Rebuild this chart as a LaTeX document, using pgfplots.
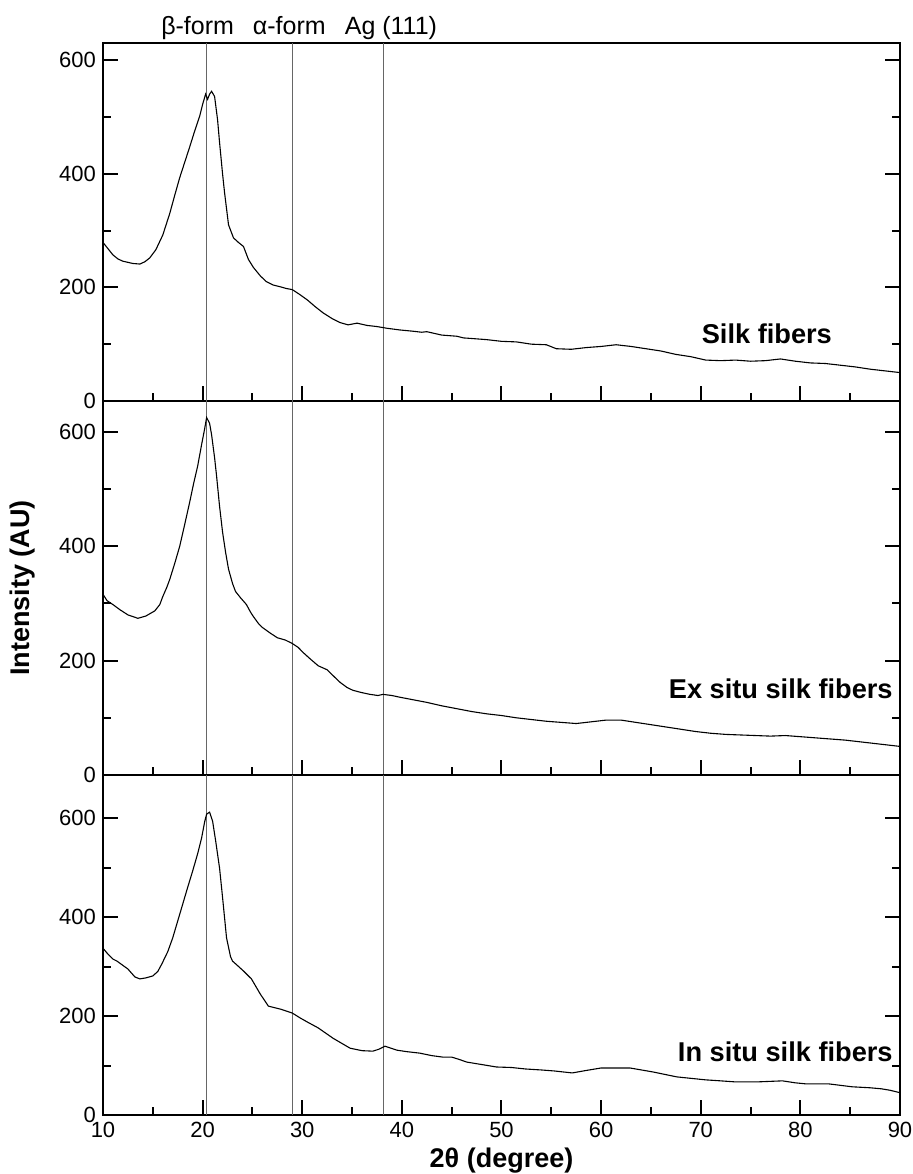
\documentclass[border=0pt]{standalone}
\usepackage{pgfplots}
\pgfplotsset{compat=1.18}
\usepackage{fontspec}
\setmainfont{Liberation Sans}

\pgfplotstableread{
x y
10 279
10.5 268
11 257
11.5 250
12 246
12.5 244
13 242
13.7 241
14.2 245
14.7 252
15.3 266
16.0 292
16.7 330
17.2 362
17.7 393
18.2 420
18.7 447
19.2 475
19.7 501
20.0 522
20.3 540
20.5 531
20.7 540
20.9 545
21.2 536
21.5 495
21.7 455
22.0 400
22.2 367
22.6 310
23.1 287
23.6 279
24.1 272
24.6 249
25.1 235
25.8 220
26.4 210
27.1 204
27.8 201
28.4 198
29.0 196
29.7 188
30.5 178
31.3 166
32.1 155
33.0 145
33.8 138
34.6 134
35.5 137
36.5 133
37.5 131
38.5 128
39.8 125
41 123
42 121
42.5 122
44 116
45.5 114
46.2 111
47 110
48.5 108
50 105
51.5 104
53 100
54.5 99
55.5 92
57 91
58.5 94
60 96
61.5 99
63 96
64.5 92
66 88
67.5 82
69 78
70.5 72
72 71
73.5 72
75 70
76.5 71
78 74
79.5 70
81 67
82.5 66
84 63
85.5 60
87 56
88.5 53
90 50
}\silk

\pgfplotstableread{
x y
10 316
10.4 305
11 298
11.7 289
12.5 280
13.5 274
14.3 278
15.2 287
15.7 298
16.0 312
16.4 328
16.7 342
17.2 370
17.7 400
18.2 438
18.7 477
19.1 510
19.5 540
19.9 578
20.2 605
20.4 625
20.7 615
20.9 595
21.2 555
21.4 523
21.7 470
22.0 425
22.3 390
22.6 360
23.0 335
23.3 321
23.8 310
24.4 298
24.8 285
25.1 277
25.6 265
26.0 258
26.8 248
27.5 240
28.3 236
29.0 230
29.6 223
30.1 214
30.8 203
31.6 191
32.5 184
33.2 172
33.8 162
34.5 153
35.1 148
36.0 144
36.8 141
37.6 139
38.1 141
39.0 139
39.8 136
41 132
42.5 127
44 121
45.5 116
47 111
48.5 107
50 104
51.5 100
53 97
54.5 94
56 92
57.5 90
59 93
60.5 96
62 96
63.5 92
65 88
66.5 84
68 80
69.5 76
71 73
72.5 71
74 70
75.5 69
77 68
78.5 69
80 67
81.5 65
83 63
84.5 61
86 58
87.5 55
89 52
90 50
}\exsitu

\pgfplotstableread{
x y
10 337
10.5 325
11 315
11.4 311
12.5 295
13.2 279
13.7 275
14.3 277
15.0 281
15.5 290
15.9 305
16.5 330
17.0 358
17.5 392
18.0 426
18.5 460
19.0 493
19.5 528
19.9 560
20.2 592
20.4 608
20.7 612
21.0 594
21.3 555
21.7 499
22.0 440
22.4 358
22.8 320
23.0 311
23.5 302
24.1 291
24.5 283
24.9 275
25.8 244
26.6 220
27.8 214
29.0 206
29.8 196
30.5 188
31.6 176
33.1 155
34.8 135
36.0 130
37.1 129
37.7 133
38.3 139
38.9 135
39.5 131
40.5 128
41.8 125
43 120
44.1 117
45.0 117
45.8 112
46.5 107
48 102
49.5 97
51 96
52.4 93
54 91
55.3 89
57.1 85
58.5 90
60.0 95
61.5 95
62.9 95
65.2 87
67.6 77
70.5 71
72 69
73.4 67
75.8 67
77 68
78.2 69
79.5 65
80.5 63
82.8 63
85.2 57
87 55
88.1 53
89 50
90 45
}\insitu

\pgfplotsset{
  panel/.style={
    scale only axis, width=398.5pt,
    xmin=10, xmax=90, ymin=0,
    xtick={10,20,...,90}, minor x tick num=1,
    ytick={0,200,400,600}, minor y tick num=1,
    tick align=inside, xtick pos=bottom, ytick pos=both,
    major tick length=7.5pt, minor tick length=4pt,
    every tick/.style={black, line width=1pt},
    axis line style={line width=1.2pt},
    clip mode=individual,
    tick label style={font=\fontsize{11}{13}\selectfont},
    /pgf/number format/assume math mode=true,
  },
}
\tikzset{
  peakline/.style={color=black!60, line width=0.5pt},
  curve/.style={black, line width=0.55pt},
  tag/.style={anchor=east, inner sep=0pt, font=\fontsize{13.6}{16}\selectfont\bfseries},
  peaklabel/.style={anchor=base, font=\fontsize{12.5}{14}\selectfont, yshift=4.5pt},
}

\begin{document}
\begin{tikzpicture}
\path[use as bounding box] (-51.5pt,21.5pt) rectangle (405pt,-565.5pt);

\begin{axis}[panel, name=p1, at={(0pt,0pt)}, anchor=north west,
    height=179pt, ymax=630, xticklabels={}]
  \addplot[peakline, forget plot] coordinates {(20.4,0) (20.4,700)};
  \addplot[peakline, forget plot] coordinates {(29,0) (29,700)};
  \addplot[peakline, forget plot] coordinates {(38.2,0) (38.2,700)};
  \addplot[curve] table {\silk};
  \node[tag] at (axis cs:83.2,118) {Silk fibers};
  \node[peaklabel] at (axis cs:19.5,630) {β-form};
  \node[peaklabel] at (axis cs:28.7,630) {α-form};
  \node[peaklabel] at (axis cs:38.9,630) {Ag (111)};
\end{axis}

\begin{axis}[panel, name=p2, at={(p1.south west)}, anchor=north west,
    height=187pt, ymax=654, xticklabels={},
    ylabel={Intensity (AU)},
    ylabel style={font=\fontsize{13.5}{16}\selectfont\bfseries,
      at={(axis description cs:-0.1016,0.5)}, anchor=center}]
  \addplot[peakline, forget plot] coordinates {(20.4,0) (20.4,700)};
  \addplot[peakline, forget plot] coordinates {(29,0) (29,700)};
  \addplot[peakline, forget plot] coordinates {(38.2,0) (38.2,700)};
  \addplot[curve] table {\exsitu};
  \node[tag] at (axis cs:89.3,150) {Ex situ silk fibers};
\end{axis}

\begin{axis}[panel, name=p3, at={(p2.south west)}, anchor=north west,
    height=170pt, ymax=687,
    xlabel={2θ (degree)},
    xlabel style={font=\fontsize{13.5}{16}\selectfont\bfseries,
      at={(axis description cs:0.5,0)}, anchor=center, yshift=-23pt}]
  \addplot[peakline, forget plot] coordinates {(20.4,0) (20.4,700)};
  \addplot[peakline, forget plot] coordinates {(29,0) (29,700)};
  \addplot[peakline, forget plot] coordinates {(38.2,0) (38.2,700)};
  \addplot[curve] table {\insitu};
  \node[tag] at (axis cs:89.3,128) {In situ silk fibers};
\end{axis}
\end{tikzpicture}
\end{document}
